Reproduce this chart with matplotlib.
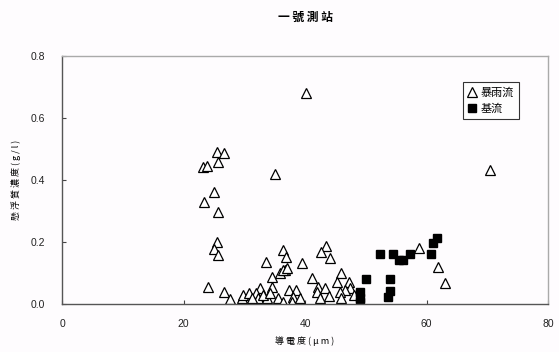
import matplotlib
matplotlib.use("Agg")
import matplotlib.pyplot as plt

plt.rcParams['font.family'] = ['Noto Sans CJK TC', 'DejaVu Sans']

# storm flow (triangles)
storm_x = [23.2, 23.8, 25.5, 26.6, 25.7, 40.2, 35.1, 70.5,
           25.0, 23.4, 25.7, 25.5, 25.0, 25.6,
           33.5, 36.4, 36.8, 43.5, 42.7, 44.1, 39.5, 58.7, 61.9, 63.0,
           34.5, 35.9, 36.7, 36.4, 37.0, 41.1, 45.9, 45.2, 47.3,
           24.1, 26.6, 27.7, 29.6, 29.8, 30.7, 32.6, 34.5, 32.0, 32.3,
           33.7, 35.6, 31.2, 33.1, 34.2, 47.4, 46.6, 42.2, 43.3, 41.9,
           42.5, 45.8, 46.0, 37.3, 38.6, 38.1, 37.8, 36.3, 39.2, 44.0, 48.0]
storm_y = [0.441, 0.446, 0.491, 0.488, 0.459, 0.680, 0.418, 0.432,
           0.362, 0.330, 0.296, 0.201, 0.176, 0.158,
           0.137, 0.174, 0.151, 0.187, 0.169, 0.147, 0.133, 0.180, 0.120, 0.069,
           0.088, 0.099, 0.110, 0.110, 0.115, 0.083, 0.099, 0.072, 0.072,
           0.056, 0.040, 0.015, 0.018, 0.029, 0.035, 0.051, 0.056, 0.035, 0.018,
           0.018, 0.018, 0.018, 0.029, 0.035, 0.051, 0.045, 0.056, 0.051, 0.040,
           0.018, 0.040, 0.018, 0.045, 0.045, 0.024, 0.007, 0.005, 0.018, 0.025, 0.030]

# base flow (squares)
base_x = [49.1, 49.1, 49.1, 50.1, 52.3, 53.7, 54.0, 54.0, 54.5, 55.4, 56.2, 57.3, 60.7, 61.1, 61.8]
base_y = [0.005, 0.018, 0.040, 0.080, 0.160, 0.022, 0.043, 0.080, 0.160, 0.142, 0.142, 0.160, 0.160, 0.198, 0.212]

xticks = [0, 20, 40, 60, 80]
yticks = [0.0, 0.2, 0.4, 0.6, 0.8]

fig = plt.figure(figsize=(5.59, 3.52), dpi=100)
fig.patch.set_facecolor('#fefcfe')
ax = fig.add_axes([62/559, 1 - 304/352, 486/559, 248/352])
ax.set_facecolor('#fefcfe')

ax.plot(storm_x, storm_y, linestyle='none', marker='^', markersize=6.5,
        markerfacecolor='white', markeredgecolor='black', markeredgewidth=0.9,
        label='暴雨流')
ax.plot(base_x, base_y, linestyle='none', marker='s', markersize=5.5,
        markerfacecolor='black', markeredgecolor='black', label='基流')

ax.set_xlim(0, 80)
ax.set_ylim(0, 0.8)
ax.set_xticks(xticks)
ax.set_yticks(yticks)
ax.set_yticklabels([f'{v:.1f}' for v in yticks])
ax.tick_params(direction='in', length=3, width=0.8, labelsize=7.5,
               colors='#444444', labelcolor='#222222')
ax.tick_params(axis='x', pad=11)
ax.tick_params(axis='y', pad=12)
for lbl in ax.get_xticklabels() + ax.get_yticklabels():
    lbl.set_family('Liberation Sans')
for side in ['top', 'right']:
    ax.spines[side].set_color('#aaaaaa')
    ax.spines[side].set_linewidth(1.0)
for side in ['left', 'bottom']:
    ax.spines[side].set_color('#555555')
    ax.spines[side].set_linewidth(1.0)

fig.text(305/559, 0.952, '一 號 測 站', ha='center', va='center', fontsize=8.5, weight='heavy')
ax.set_xlabel('導 電 度 ( μ m )', fontsize=6.5, labelpad=5)
ax.set_ylabel('懸 浮 質 濃 度 ( g / l )', fontsize=6.5, labelpad=7)

leg = ax.legend(loc='upper left', bbox_to_anchor=(0.825, 0.895), fontsize=8,
                frameon=True, fancybox=False, edgecolor='black',
                handlelength=0.8, handletextpad=0.3, borderpad=0.45,
                labelspacing=0.55, borderaxespad=0)
leg.get_frame().set_linewidth(0.8)

fig.savefig('out.png', dpi=100, facecolor=fig.get_facecolor())
